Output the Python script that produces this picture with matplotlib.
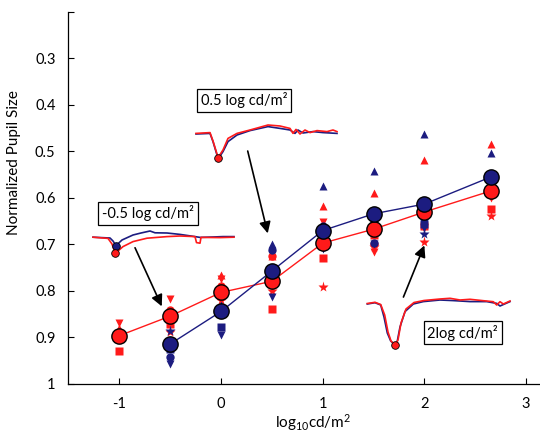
import matplotlib
matplotlib.use("Agg")
import matplotlib.pyplot as plt

plt.rcParams['font.family'] = ['Lato', 'DejaVu Sans']
plt.rcParams['axes.unicode_minus'] = False
plt.rcParams['mathtext.fontset'] = 'custom'
plt.rcParams['mathtext.rm'] = 'Lato'
plt.rcParams['mathtext.it'] = 'Lato'

RED = '#ff1a1a'
BLUE = '#1c1c80'

# luminance levels (log10 cd/m^2)
red_x = [-1, -0.5, 0, 0.5, 1, 1.5, 2, 2.65]
blue_x = [-0.5, 0, 0.5, 1, 1.5, 2, 2.65]

# group means
red_mean = [0.896, 0.854, 0.803, 0.779, 0.697, 0.667, 0.630, 0.585]
blue_mean = [0.914, 0.844, 0.757, 0.670, 0.634, 0.613, 0.555]

# individual subjects, one marker shape each
red_subj = {
    '^': [0.880, 0.845, 0.765, 0.725, 0.617, 0.590, 0.518, 0.483],
    'v': [0.868, 0.817, 0.775, 0.790, 0.652, 0.717, 0.665, 0.600],
    's': [0.930, 0.872, 0.810, 0.838, 0.730, 0.680, 0.660, 0.624],
    '*': [0.890, 0.889, 0.820, 0.801, 0.792, 0.705, 0.695, 0.638],
    'o': [0.900, 0.840, 0.790, 0.724, 0.690, 0.700, 0.635, 0.590],
}
blue_subj = {
    '^': [0.905, 0.830, 0.700, 0.574, 0.543, 0.462, 0.504],
    'v': [0.958, 0.895, 0.813, 0.709, 0.700, 0.665, 0.575],
    's': [0.925, 0.877, 0.780, 0.680, 0.645, 0.655, 0.565],
    '*': [0.885, 0.850, 0.760, 0.690, 0.660, 0.677, 0.570],
    'o': [0.943, 0.840, 0.712, 0.660, 0.697, 0.642, 0.560],
}

# example pupil traces (time in s, relative pupil size)
t1_blue = [0.3, 2.0, 2.3, 2.6, 3.2, 4.3, 5.1, 6.0, 6.5, 7.7, 9.0, 10.5, 11.0, 12.3, 13.3, 14.4]
p1_blue = [0.999, 0.995, 0.98, 0.957, 0.985, 1.01, 1.02, 1.03, 1.021, 1.02, 1.013, 1.002, 0.998, 1.0, 1.002, 1.002]
t1_red = [0.3, 1.8, 2.2, 2.5, 2.8, 3.3, 4.3, 5.7, 7.7, 9.0, 10.5, 10.65, 11.0, 11.1, 13.0, 14.4]
p1_red = [0.999, 0.993, 0.965, 0.922, 0.93, 0.952, 0.977, 0.994, 1.002, 1.005, 1.002, 0.972, 0.969, 0.998, 0.997, 0.999]

t2_blue = [0.3, 1.7, 2.0, 2.4, 2.6, 3.0, 3.5, 4.4, 5.7, 7.5, 8.7, 9.7, 10.2, 10.5, 11.0, 12.0, 13.0, 14.4]
p2_blue = [1.0, 1.003, 0.962, 0.895, 0.882, 0.912, 0.962, 0.995, 1.017, 1.037, 1.028, 1.02, 1.003, 1.02, 1.005, 1.012, 1.007, 1.003]
t2_red = [0.3, 1.7, 2.0, 2.4, 2.5, 3.0, 3.5, 4.4, 5.7, 7.5, 8.7, 9.7, 10.0, 10.3, 10.7, 11.2, 11.7, 12.4, 13.4, 14.0, 14.4]
p2_red = [1.003, 1.007, 0.965, 0.9, 0.882, 0.92, 0.978, 1.003, 1.02, 1.045, 1.04, 1.028, 1.003, 1.023, 1.0, 1.02, 1.007, 1.017, 1.012, 1.02, 1.012]

t3_blue = [0.33, 1.1, 1.67, 2.0, 2.33, 2.67, 3.1, 3.33, 3.6, 4.1, 4.93, 5.93, 7.6, 8.93, 10.6, 12.27, 13.27, 13.6, 14.6]
p3_blue = [0.995, 1.0015, 0.99, 0.93, 0.85, 0.81, 0.79, 0.81, 0.88, 0.957, 0.995, 1.007, 1.015, 1.012, 1.007, 1.007, 0.998, 0.985, 1.007]
t3_red = [0.33, 1.1, 1.67, 2.07, 2.4, 2.7, 3.1, 3.4, 3.7, 4.2, 5.0, 6.0, 7.6, 8.6, 9.6, 10.6, 11.93, 12.93, 13.27, 13.6, 13.93, 14.6]
p3_red = [0.9975, 1.0035, 0.9925, 0.94, 0.855, 0.81, 0.79, 0.815, 0.9, 0.97, 1.0025, 1.0125, 1.02, 1.0235, 1.015, 1.0185, 1.0115, 1.0065, 0.99, 1.0065, 0.995, 1.01]

W, H = 540, 434
fig = plt.figure(figsize=(W / 100, H / 100), dpi=100)
ax = fig.add_axes([68 / W, 50 / H, 472 / W, 372 / H])

for m, vals in red_subj.items():
    ax.plot(red_x, vals, ls='none', marker=m, color=RED, mec='none',
            ms=8 if m == '*' else 6, zorder=2)
for m, vals in blue_subj.items():
    ax.plot(blue_x, vals, ls='none', marker=m, color=BLUE, mec='none',
            ms=8 if m == '*' else 6, zorder=2)

ax.plot(red_x, red_mean, '-', color=RED, lw=1, zorder=3)
ax.plot(blue_x, blue_mean, '-', color=BLUE, lw=1, zorder=3)
ax.plot(red_x, red_mean, 'o', color=RED, mec='black', mew=1, ms=11, zorder=4)
ax.plot(blue_x, blue_mean, 'o', color=BLUE, mec='black', mew=1, ms=11, zorder=4)

ax.set_xlim(-1.505, 3.136)
ax.set_ylim(1.0, 0.2034)
ax.set_xticks([-1, 0, 1, 2, 3])
ax.set_yticks([0.2, 0.3, 0.4, 0.5, 0.6, 0.7, 0.8, 0.9, 1.0])
ax.set_yticklabels(['', '0.3', '0.4', '0.5', '0.6', '0.7', '0.8', '0.9', '1'])
ax.tick_params(direction='in', length=4, width=0.8, pad=9, labelsize=10.5)
for s in ['top', 'right']:
    ax.spines[s].set_visible(False)
for s in ['left', 'bottom']:
    ax.spines[s].set_linewidth(0.9)

ax.set_ylabel('Normalized Pupil Size', fontsize=11)
ax.yaxis.set_label_coords(-0.1, 0.594)
ax.set_xlabel(r'log$_{10}$cd/m$^{2}$', fontsize=11)
ax.xaxis.set_label_coords(0.52, -0.075)

# condition labels and arrows to the matching data column
box = dict(boxstyle='square,pad=0.25', fc='white', ec='black', lw=0.9)
ax.text(-0.718, 0.633, '-0.5 log cd/m²', ha='center', va='center', fontsize=10.5, bbox=box)
ax.text(0.226, 0.390, '0.5 log cd/m²', ha='center', va='center', fontsize=10.5, bbox=box)
ax.text(2.375, 0.890, '2log cd/m²', ha='center', va='center', fontsize=10.5, bbox=box)

arrow = dict(arrowstyle='-|>', color='black', lw=1.2, mutation_scale=17, shrinkA=0, shrinkB=0)
ax.annotate('', xy=(-0.583, 0.833), xytext=(-0.846, 0.707), arrowprops=arrow)
ax.annotate('', xy=(0.459, 0.676), xytext=(0.262, 0.499), arrowprops=arrow)
ax.annotate('', xy=(1.999, 0.702), xytext=(1.793, 0.813), arrowprops=arrow)


def trace_axes(left, top, width, height, base):
    a = fig.add_axes([left / W, 1 - (top + height) / H, width / W, height / H])
    a.set_xlim(0, width / 10)
    a.set_ylim(1 - (top + height - base) * 0.005, 1 - (top - base) * 0.005)
    a.axis('off')
    a.patch.set_alpha(0)
    return a


def draw_trace(a, tb, pb, tr, pr, blue_dot=True):
    a.plot(tb, pb, color=BLUE, lw=1.2)
    a.plot(tr, pr, color=RED, lw=1.2)
    if blue_dot:
        i = pb.index(min(pb))
        a.plot(tb[i], pb[i], 'o', color=BLUE, mec='black', mew=0.6, ms=5.5, clip_on=False)
    i = pr.index(min(pr))
    a.plot(tr[i], pr[i], 'o', color=RED, mec='black', mew=0.6, ms=5.5, clip_on=False)


draw_trace(trace_axes(90, 222, 150, 36, 237), t1_blue, p1_blue, t1_red, p1_red)
draw_trace(trace_axes(193, 115, 150, 50, 134), t2_blue, p2_blue, t2_red, p2_red, blue_dot=False)
draw_trace(trace_axes(364, 290, 150, 60, 303), t3_blue, p3_blue, t3_red, p3_red, blue_dot=False)

fig.savefig('out.png', dpi=100)
